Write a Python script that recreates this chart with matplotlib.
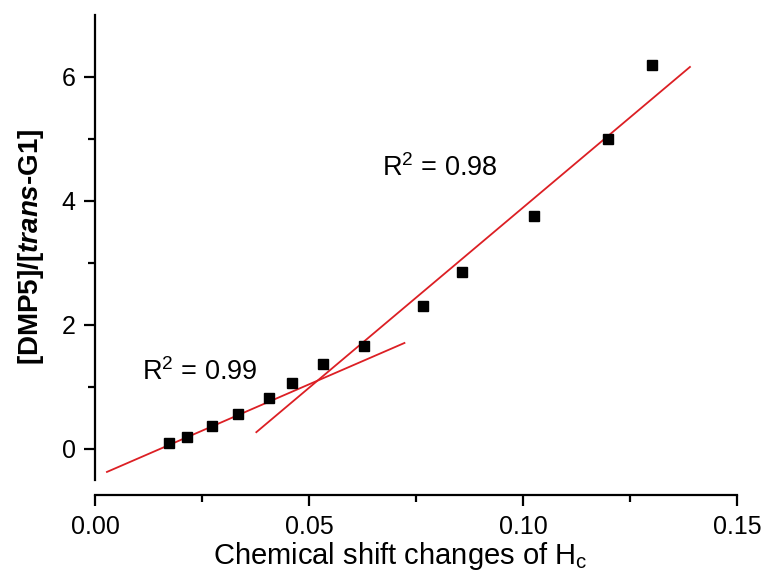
import matplotlib
matplotlib.use("Agg")
import matplotlib.pyplot as plt
import numpy as np

plt.rcParams['font.family'] = ['Liberation Sans', 'DejaVu Sans']
plt.rcParams['mathtext.fontset'] = 'custom'
plt.rcParams['mathtext.rm'] = 'Liberation Sans'
plt.rcParams['mathtext.bf'] = 'Liberation Sans:bold'
plt.rcParams['mathtext.it'] = 'Liberation Sans:italic'
plt.rcParams['mathtext.bfit'] = 'Liberation Sans:bold:italic'

# data
shift_hc = [0.0172, 0.0216, 0.0274, 0.0335, 0.0407, 0.0460, 0.0533,
            0.0628, 0.0767, 0.0858, 0.1026, 0.1198, 0.1302]
ratio = [0.10, 0.19, 0.37, 0.56, 0.82, 1.06, 1.37,
         1.66, 2.31, 2.85, 3.76, 5.00, 6.18]

# linear fits (intercept, slope) and their x-ranges
fit_low = (-0.454, 29.9)
fit_low_range = (0.0028, 0.0723)
fit_high = (-1.92, 58.1)
fit_high_range = (0.0377, 0.139)
r2_labels = ["0.99", "0.98"]

fig = plt.figure(figsize=(7.64, 5.74), dpi=100)
ax = fig.add_axes([0.1243, 0.1638, 0.8404, 0.8108])

for (a, b), (x0, x1) in [(fit_low, fit_low_range), (fit_high, fit_high_range)]:
    xs = np.array([x0, x1])
    ax.plot(xs, a + b * xs, color='#dc1f24', lw=1.3, zorder=2)

ax.plot(shift_hc, ratio, 's', color='black', ms=7, zorder=3)

ax.text(0.0109, 1.24, r"R$^{\mathregular{2}}$ = " + r2_labels[0], fontsize=19.5, va='center', ha='left')
ax.text(0.0670, 4.52, r"R$^{\mathregular{2}}$ = " + r2_labels[1], fontsize=19.5, va='center', ha='left')

ax.set_xlim(0, 0.15)
ax.set_ylim(-0.5, 7)
ax.set_xticks([0.00, 0.05, 0.10, 0.15])
ax.set_xticklabels(["0.00", "0.05", "0.10", "0.15"])
ax.set_yticks([0, 2, 4, 6])
ax.set_xticks(np.arange(0, 0.151, 0.025), minor=True)
ax.set_yticks([1, 3, 5], minor=True)

for s in ['top', 'right']:
    ax.spines[s].set_visible(False)
ax.spines['bottom'].set_position(('outward', 11))
for s in ['left', 'bottom']:
    ax.spines[s].set_linewidth(1.6)

ax.tick_params(which='major', direction='out', length=8, width=1.6, labelsize=18, pad=6)
ax.tick_params(which='minor', direction='out', length=5, width=1.6)

ax.set_xlabel(r"Chemical shift changes of H$_\mathregular{c}$", fontsize=21)
ax.xaxis.set_label_coords(0.476, -0.128)
ax.set_ylabel(r"$\mathbf{[DMP5]/[}\mathbfit{trans}\mathbf{‐G1]}$", fontsize=20, labelpad=11)

fig.savefig("out.png", dpi=100)
